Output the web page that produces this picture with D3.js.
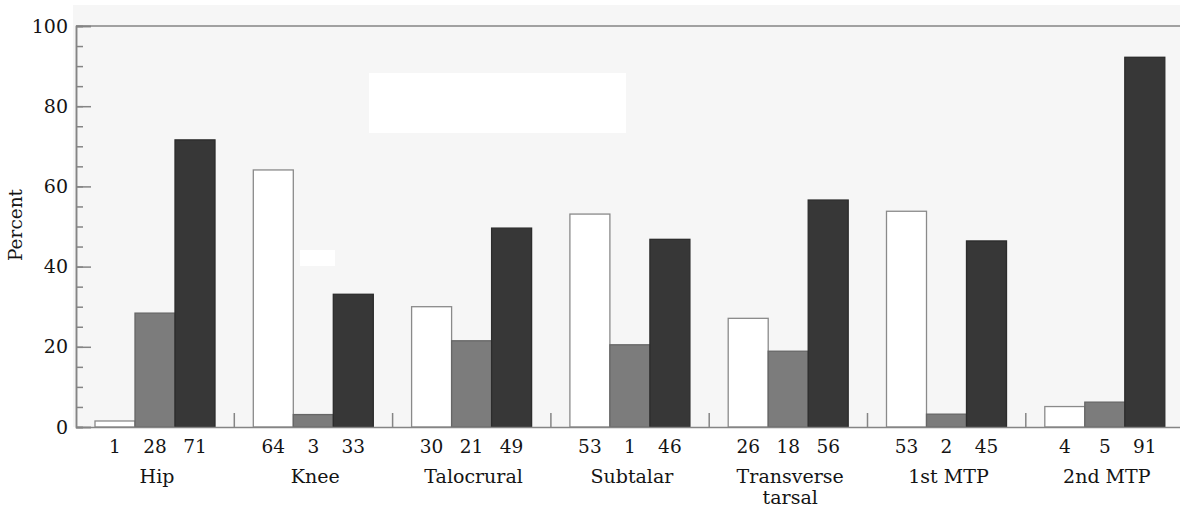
<!DOCTYPE html>
<html>
<head>
<meta charset="utf-8">
<script src="https://cdn.jsdelivr.net/npm/d3@7"></script>
<style>
html,body{margin:0;padding:0;background:#fff;}
svg{display:block;}
text{font-family:"DejaVu Serif","Liberation Serif",serif;fill:#141414;}
</style>
</head>
<body>
<svg id="chart" width="1180" height="508"></svg>
<script>
// ---- data ----
const categories = ["Hip", "Knee", "Talocrural", "Subtalar", "Transverse tarsal", "1st MTP", "2nd MTP"];
const categoryLines = [["Hip"], ["Knee"], ["Talocrural"], ["Subtalar"], ["Transverse", "tarsal"], ["1st MTP"], ["2nd MTP"]];
const seriesNames = ["open", "shaded", "solid"];
// bar heights as drawn (percent)
const openValues   = [1.5, 64.1, 30.0, 53.1, 27.1, 53.8, 5.1];
const shadedValues = [28.4, 3.1, 21.5, 20.5, 18.9, 3.2, 6.2];
const solidValues  = [71.6, 33.1, 49.6, 46.8, 56.6, 46.4, 92.2];
// printed value labels under bars
const openLabels   = ["1", "64", "30", "53", "26", "53", "4"];
const shadedLabels = ["28", "3", "21", "1", "18", "2", "5"];
const solidLabels  = ["71", "33", "49", "46", "56", "45", "91"];
const yTicks = [0, 20, 40, 60, 80, 100];
const yMinorTicks = d3.range(0, 101, 5);
const yTitle = "Percent";

// ---- layout ----
const svg = d3.select("#chart");
const x0 = 76, yBottom = 427, yTop = 26;
const groupW = 158.3;
const x = d3.scaleBand().domain(categories).range([x0, x0 + groupW * categories.length]).paddingInner(0).paddingOuter(0);
const xs = d3.scaleBand().domain(seriesNames).range([19, 139]).padding(0);
const y = d3.scaleLinear().domain([0, 100]).range([yBottom, yTop]);

const fills = {open: "#ffffff", shaded: "#7c7c7c", solid: "#373737"};
const strokes = {open: "#8a8a8a", shaded: "#666666", solid: "#2c2c2c"};

// scanned paper background of plot area
svg.append("rect").attr("x", 73).attr("y", 5).attr("width", 1107).attr("height", yBottom - 5).attr("fill", "#f6f6f6");
svg.append("rect").attr("x", 369).attr("y", 73).attr("width", 257).attr("height", 60).attr("fill", "#ffffff");
svg.append("rect").attr("x", 300).attr("y", 250).attr("width", 35).attr("height", 16).attr("fill", "#ffffff");

const rows = categories.map((c, i) => ({
  cat: c,
  vals: [
    {s: "open", v: openValues[i], lab: openLabels[i]},
    {s: "shaded", v: shadedValues[i], lab: shadedLabels[i]},
    {s: "solid", v: solidValues[i], lab: solidLabels[i]}
  ]
}));

const g = svg.append("g").selectAll("g").data(rows).join("g")
  .attr("transform", d => `translate(${x(d.cat)},0)`);

g.selectAll("rect").data(d => d.vals).join("rect")
  .attr("x", d => xs(d.s))
  .attr("width", xs.bandwidth())
  .attr("y", d => y(d.v))
  .attr("height", d => y(0) - y(d.v))
  .attr("fill", d => fills[d.s])
  .attr("stroke", d => strokes[d.s])
  .attr("stroke-width", 1.3);

g.selectAll("text.val").data(d => d.vals).join("text")
  .attr("class", "val")
  .attr("x", d => xs(d.s) + xs.bandwidth() / 2)
  .attr("y", 453)
  .attr("text-anchor", "middle")
  .attr("font-size", 18.5)
  .text(d => d.lab);

g.append("text")
  .attr("x", xs("shaded") + xs.bandwidth() / 2 + 2)
  .attr("y", 483)
  .attr("text-anchor", "middle")
  .attr("font-size", 19)
  .selectAll("tspan").data((d, i) => categoryLines[i]).join("tspan")
  .attr("x", xs("shaded") + xs.bandwidth() / 2 + 2)
  .attr("dy", (d, j) => j === 0 ? 0 : 21)
  .text(d => d);

// ---- axes ----
const axisColor = "#858585";
const yMinor = svg.append("g").attr("transform", `translate(${x0},0)`)
  .call(d3.axisLeft(y).tickValues(yMinorTicks).tickSize(-7).tickFormat(""));
const yAxis = svg.append("g").attr("transform", `translate(${x0},0)`)
  .call(d3.axisLeft(y).tickValues(yTicks).tickSize(-15).tickPadding(8));
[yMinor, yAxis].forEach(a => {
  a.select(".domain").attr("stroke", axisColor).attr("stroke-width", 1.5);
  a.selectAll(".tick line").attr("stroke", axisColor).attr("stroke-width", 1.5);
});
yAxis.selectAll(".tick text").attr("font-size", 19).attr("font-family", "DejaVu Serif").attr("fill", "#141414");

// bottom axis line with group separator ticks
const xAxis = svg.append("g").attr("transform", `translate(0,${yBottom})`)
  .call(d3.axisTop(x).tickSize(0).tickFormat(""));
xAxis.select(".domain").attr("stroke", axisColor).attr("stroke-width", 1.5);
xAxis.selectAll(".tick").remove();
svg.append("g").selectAll("line").data(categories.slice(1)).join("line")
  .attr("x1", d => x(d)).attr("x2", d => x(d))
  .attr("y1", yBottom).attr("y2", yBottom - 14)
  .attr("stroke", axisColor).attr("stroke-width", 1.5);

// top frame line
svg.append("line").attr("x1", x0).attr("x2", 1180).attr("y1", yTop).attr("y2", yTop)
  .attr("stroke", axisColor).attr("stroke-width", 1.5);

// y title
svg.append("text")
  .attr("transform", `translate(22,225) rotate(-90)`)
  .attr("text-anchor", "middle")
  .attr("font-size", 18.5)
  .text(yTitle);
</script>
</body>
</html>
